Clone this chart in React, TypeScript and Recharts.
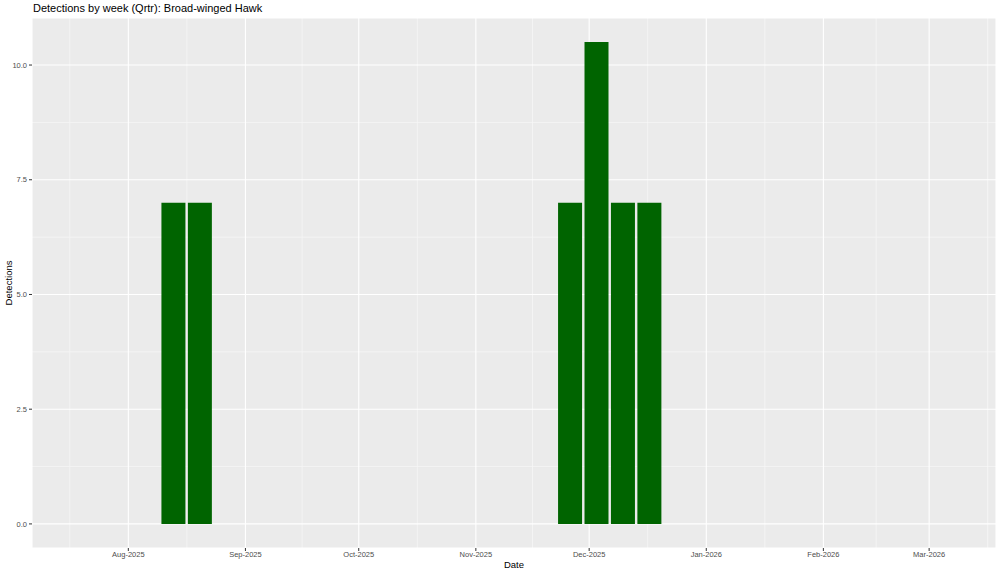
import React from "react";
import { BarChart, Bar, XAxis, YAxis, CartesianGrid, Label } from "recharts";

// weekly bins (start date of week) and detections
const weeks = [
  "2025-08-13",
  "2025-08-20",
  "2025-11-26",
  "2025-12-03",
  "2025-12-10",
  "2025-12-17",
];
const detections = [7, 7, 7, 10.5, 7, 7];

// month breaks shown on the x axis
const monthBreaks = [
  "2025-08-01",
  "2025-09-01",
  "2025-10-01",
  "2025-11-01",
  "2025-12-01",
  "2026-01-01",
  "2026-02-01",
  "2026-03-01",
];
const monthLabels = [
  "Aug-2025",
  "Sep-2025",
  "Oct-2025",
  "Nov-2025",
  "Dec-2025",
  "Jan-2026",
  "Feb-2026",
  "Mar-2026",
];
// breaks either side, only used for minor grid lines
const outerBreaks = ["2025-07-01", "2026-04-01"];

const yTicks = [0, 2.5, 5, 7.5, 10];

const toDay = (s: string) => {
  const [y, m, d] = s.split("-").map(Number);
  return (Date.UTC(y, m - 1, d) - Date.UTC(2025, 7, 1)) / 86400000;
};

const data = weeks.map((w, i) => ({ day: toDay(w), n: detections[i] }));
const xTicks = monthBreaks.map(toDay);
const labelOf: Record<number, string> = {};
xTicks.forEach((t, i) => (labelOf[t] = monthLabels[i]));

const allBreaks = [outerBreaks[0], ...monthBreaks, outerBreaks[1]].map(toDay);
const xMinor = allBreaks.slice(1).map((b, i) => (b + allBreaks[i]) / 2);
const yMinor = yTicks.slice(1).map((t, i) => (t + yTicks[i]) / 2);

const font = '"Liberation Sans", Arial, sans-serif';
const tickStyle = { fill: "#4d4d4d", fontSize: 7.5, fontFamily: font };

export default function App() {
  return (
    <div
      style={{
        position: "absolute",
        left: 0,
        top: 0,
        width: 1000,
        height: 573,
        background: "#fff",
        fontFamily: font,
      }}
    >
      <div
        style={{
          position: "absolute",
          left: 33,
          top: 3,
          fontSize: 11,
          lineHeight: "11px",
          color: "#000",
        }}
      >
        Detections by week (Qrtr): Broad-winged Hawk
      </div>
      <BarChart
        width={1000}
        height={573}
        data={data}
        margin={{ top: 18, right: 4, bottom: 0, left: 0 }}
      >
        <CartesianGrid
          fill="#ebebeb"
          stroke="#f6f6f6"
          strokeWidth={0.8}
          verticalValues={xMinor}
          horizontalValues={yMinor}
        />
        <CartesianGrid stroke="#ffffff" strokeWidth={1.1} />
        <XAxis
          dataKey="day"
          type="number"
          domain={[-25.5, 229.7]}
          allowDataOverflow
          ticks={xTicks}
          interval={0}
          tickFormatter={(v) => labelOf[v] ?? ""}
          axisLine={false}
          tickLine={{ stroke: "#333333" }}
          tickSize={3}
          tickMargin={1}
          height={25}
          tick={tickStyle}
        >
          <Label
            value="Date"
            position="insideBottom"
            offset={5}
            style={{ fill: "#000", fontSize: 9.5, fontFamily: font }}
          />
        </XAxis>
        <YAxis
          type="number"
          domain={[-0.525, 11.025]}
          allowDataOverflow
          ticks={yTicks}
          interval={0}
          tickFormatter={(v) => Number(v).toFixed(1)}
          axisLine={false}
          tickLine={{ stroke: "#333333" }}
          tickSize={3}
          tickMargin={2}
          width={32}
          tick={tickStyle}
        >
          <Label
            content={({ viewBox }: any) => {
              const cy = viewBox.y + viewBox.height / 2;
              return (
                <text
                  x={8}
                  y={cy}
                  transform={`rotate(-90 8 ${cy})`}
                  textAnchor="middle"
                  dominantBaseline="central"
                  fill="#000"
                  fontSize={9.5}
                  fontFamily={font}
                >
                  Detections
                </text>
              );
            }}
          />
        </YAxis>
        <Bar dataKey="n" fill="#006400" barSize={24} isAnimationActive={false} />
      </BarChart>
    </div>
  );
}
